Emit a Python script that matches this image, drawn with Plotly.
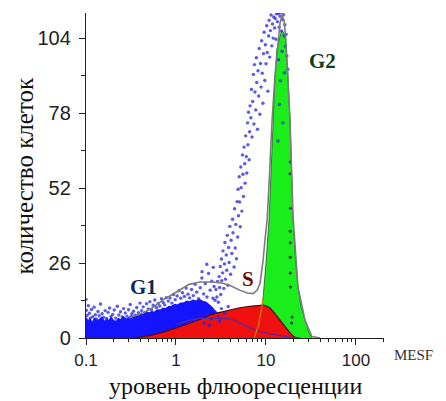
import numpy as np
import plotly.graph_objects as go

# ---------------- data ----------------
# total model fit (grey line)
fit_x = [0.3, 0.43, 0.55, 0.72, 0.9, 1.1, 1.4, 1.85, 2.6, 3.3, 4.0, 5.1, 6.2, 7.2, 8.0, 8.6,
         9.3, 9.75, 10.3, 11.0, 11.7, 12.6, 13.5, 14.3, 15.1, 15.9, 16.6, 17.6, 18.5, 20.0,
         22.7, 27.1, 32.4, 40.0]
fit_y = [7.0, 8.7, 10.5, 13.2, 15.0, 16.6, 18.6, 19.4, 19.4, 19.0, 18.2, 16.6, 15.6, 15.4, 16.6,
         19.0, 27.0, 34.0, 41.0, 58.0, 75.6, 91.0, 102.0, 109.0, 112.0, 110.0, 104.0, 90.5,
         75.6, 42.0, 17.7, 6.2, 0.5, 0.0]

# G2 component (green)
g2_x = [7.4, 8.2, 9.0, 9.3, 10.0, 10.8, 11.4, 12.0, 12.6, 13.2, 14.0, 14.7, 15.3, 16.3, 17.0,
        17.6, 18.5, 19.2, 20.0, 21.2, 22.7, 24.5, 27.1, 29.5, 32.4]
g2_y = [0.0, 4.0, 10.7, 14.0, 26.0, 41.0, 58.0, 75.6, 90.5, 100.0, 104.0, 106.0, 106.5, 105.0,
        98.0, 90.5, 75.6, 58.0, 41.0, 28.0, 17.7, 11.0, 6.2, 2.5, 0.0]

# S component (red)
s_x = [0.34, 0.51, 0.76, 1.1, 1.45, 1.9, 2.4, 3.0, 4.0, 5.1, 6.6, 8.0, 9.3, 10.2, 11.1, 12.5,
       14.3, 16.2, 18.5, 20.0, 21.5]
s_y = [0.0, 0.8, 2.2, 3.8, 5.2, 6.6, 8.0, 8.8, 9.8, 10.5, 11.0, 11.3, 11.4, 11.0, 10.4, 8.5,
       6.2, 3.8, 1.8, 0.7, 0.0]

# G1 tail curve (purple line)
p_x = [1.0, 1.2, 1.45, 1.85, 2.4, 3.0, 4.0, 5.1, 6.6, 8.5, 11.1, 14.0, 18.5, 24.0]
p_y = [4.8, 5.5, 6.2, 6.8, 6.9, 6.9, 6.6, 5.3, 3.5, 2.3, 1.4, 0.8, 0.3, 0.0]

# dense G1 band of measured points (upper edge)
band_x = [0.1, 0.105, 0.11, 0.118, 0.125, 0.133, 0.14, 0.15, 0.16, 0.17, 0.18, 0.19, 0.2, 0.215,
          0.23, 0.245, 0.26, 0.28, 0.3, 0.32, 0.34, 0.36, 0.385, 0.41, 0.44, 0.47, 0.5, 0.54,
          0.58, 0.62, 0.67, 0.72, 0.77, 0.83, 0.9, 0.97, 1.05, 1.13, 1.22, 1.32, 1.43, 1.55,
          1.68, 1.82, 1.97, 2.13, 2.3, 2.5, 2.7, 2.9]
band_y = [7.0, 5.5, 6.5, 5.0, 6.8, 5.6, 6.2, 7.0, 5.4, 6.4, 5.8, 6.9, 6.0, 5.5, 6.6, 6.1, 7.2,
          6.3, 7.0, 7.6, 6.8, 7.8, 7.4, 8.4, 8.0, 9.0, 8.5, 9.0, 8.8, 9.6, 9.5, 10.2, 10.0, 10.8,
          10.9, 11.5, 11.3, 12.0, 12.0, 12.6, 12.4, 13.0, 12.7, 13.2, 12.6, 12.3, 11.5, 10.5,
          9.2, 8.5]

# scattered measured points: (fluorescence, count)
pts_left = [
    (0.1, 13.4), (0.101, 9.6), (0.103, 7.8), (0.106, 11.2), (0.109, 8.6), (0.112, 6.9),
    (0.115, 9.9), (0.119, 7.4), (0.123, 10.7), (0.127, 8.1), (0.131, 6.6), (0.136, 9.2),
    (0.14, 7.7), (0.145, 11.8), (0.151, 8.4), (0.157, 7.1), (0.163, 9.5), (0.17, 6.8),
    (0.176, 8.9), (0.183, 10.4), (0.19, 7.5), (0.198, 8.2), (0.206, 9.7), (0.214, 6.9),
    (0.223, 11.0), (0.232, 8.0), (0.242, 9.1), (0.252, 7.3), (0.262, 10.2), (0.273, 8.7),
    (0.285, 7.6), (0.297, 9.8), (0.31, 11.6), (0.323, 8.4), (0.337, 9.3), (0.351, 7.9),
    (0.366, 10.6), (0.382, 8.8), (0.398, 12.1), (0.415, 9.5), (0.433, 10.8), (0.452, 8.9),
    (0.471, 11.9), (0.492, 10.1), (0.513, 12.6), (0.535, 9.7), (0.558, 11.4), (0.582, 13.2),
    (0.607, 10.6), (0.633, 12.0), (0.66, 11.1), (0.69, 13.6), (0.72, 12.3), (0.75, 11.5),
    (0.78, 14.0), (0.82, 12.8), (0.86, 13.9), (0.9, 12.1), (0.94, 15.1), (0.98, 13.3),
    (1.03, 14.6), (1.08, 16.4), (1.13, 13.8), (1.18, 15.7), (1.24, 14.4), (1.3, 17.3),
    (1.36, 15.2), (1.42, 13.9), (1.49, 16.8), (1.56, 14.7), (1.63, 18.6), (1.7, 15.9),
    (1.78, 13.6), (1.86, 17.4), (1.94, 20.8), (2.03, 15.3), (2.12, 18.9), (2.21, 14.2),
    (2.3, 22.4), (2.4, 16.6), (2.5, 19.7), (2.58, 13.8), (2.65, 17.9), (2.6, 24.5),
    (2.2, 25.6), (1.95, 23.0),
    (1.62, 6.1), (1.85, 7.6), (2.05, 5.2), (2.25, 8.3), (2.48, 6.7), (2.7, 9.1), (2.95, 7.4),
    (3.2, 10.2), (3.5, 8.6), (3.8, 10.9), (2.35, 4.4), (3.05, 5.8),
]
pts_cloud = [
    (2.72, 13.1), (2.78, 16.8), (2.85, 14.2), (2.9, 19.6), (2.96, 12.4), (3.02, 21.3),
    (3.05, 17.5), (3.1, 24.8), (3.14, 15.1), (3.2, 27.4), (3.22, 19.9), (3.3, 22.6),
    (3.33, 30.2), (3.4, 17.2), (3.46, 25.7), (3.5, 33.1), (3.55, 20.4), (3.62, 28.8),
    (3.66, 23.5), (3.72, 35.6), (3.78, 18.3), (3.85, 31.4), (3.9, 26.2), (3.97, 38.7),
    (4.05, 22.1), (4.1, 33.9), (4.18, 29.3), (4.25, 41.2), (4.3, 36.5), (4.42, 24.6),
    (4.48, 44.8), (4.55, 31.2), (4.62, 39.4), (4.7, 27.5), (4.78, 47.3), (4.85, 35.0),
    (4.9, 51.6), (4.95, 42.4), (5.05, 55.9), (5.1, 47.2), (5.18, 38.6), (5.25, 59.3),
    (5.3, 52.1), (5.4, 44.0), (5.48, 63.5), (5.55, 56.8), (5.62, 49.1), (5.7, 66.2),
    (5.8, 60.4), (5.86, 53.7), (5.95, 70.1), (6.05, 62.9), (6.12, 57.2), (6.25, 74.6),
    (6.3, 67.0), (6.4, 78.3), (6.5, 61.8), (6.58, 71.5), (6.66, 80.5),
    (6.8, 76.4), (6.9, 86.2), (7.0, 69.7), (7.12, 82.0), (7.25, 91.4), (7.35, 74.2),
    (7.45, 94.8), (7.55, 85.3), (7.7, 79.1), (7.82, 97.2), (7.9, 88.6), (8.05, 72.4),
    (8.15, 92.7), (8.3, 83.9), (8.42, 100.4), (8.55, 77.6), (8.7, 95.2), (8.82, 87.0),
    (8.95, 103.1), (9.1, 91.8), (9.25, 81.4), (9.4, 98.6), (9.55, 106.0), (9.7, 89.3),
    (9.85, 101.7), (10.0, 95.1), (10.2, 108.3), (10.35, 99.0), (10.5, 85.6), (10.7, 104.7),
    (10.85, 110.2), (11.0, 97.4), (11.2, 106.6), (11.4, 112.0), (11.6, 101.3), (11.8, 108.9),
    (12.0, 104.0), (12.2, 111.3), (12.45, 107.5), (12.7, 110.8), (12.9, 103.6), (13.1, 112.4),
    (13.4, 109.7), (13.7, 112.5), (14.0, 107.8), (14.3, 111.6), (14.6, 112.8), (14.9, 106.5),
    (15.3, 110.4), (15.6, 112.1), (15.9, 104.8), (16.2, 108.6), (16.5, 101.2), (16.8, 105.3),
    (17.1, 97.8), (17.5, 93.2), (13.8, 96.5), (14.5, 89.2), (15.1, 99.4), (14.1, 81.0),
    (15.4, 74.6), (13.6, 68.3), (16.0, 92.0),
]
pts_x = [p[0] for p in pts_left + pts_cloud]
pts_y = [p[1] for p in pts_left + pts_cloud]

# dark points inside the G2 peak
dark_x = [18.6, 18.5, 18.7, 18.6, 18.6, 18.6, 18.6, 18.7, 19.5, 19.3]
dark_y = [61.0, 57.0, 45.0, 37.0, 33.0, 28.0, 22.5, 17.7, 7.3, 5.2]

# labels / ticks
x_ticks = [0.1, 1, 10, 100]
x_tick_text = ["0.1", "1", "10", "100"]
y_ticks = [0, 26, 52, 78, 104]
y_minor = [13, 39, 65, 91]
x_minor = [k * 10.0 ** e for e in (-1, 0, 1, 2) for k in range(2, 10) if k * 10.0 ** e < 210]
phase_labels = ["G1", "S", "G2"]
phase_x = [0.44, 6.3, 42.0]
phase_y = [17.7, 20.5, 96.0]
phase_colors = ["#0b2a5e", "#6a0c0c", "#0b3d1c"]

# ---------------- figure ----------------
fig = go.Figure()

fig.add_trace(go.Scatter(x=g2_x, y=g2_y, mode="lines", fill="tozeroy",
                         fillcolor="#1aee1a", line=dict(color="rgba(40,60,40,0.7)", width=1),
                         hoverinfo="skip"))
fig.add_trace(go.Scatter(x=band_x, y=band_y, mode="lines", fill="tozeroy",
                         fillcolor="#1414ff", line=dict(color="#1414ff", width=2),
                         hoverinfo="skip"))
fig.add_trace(go.Scatter(x=s_x, y=s_y, mode="lines", fill="tozeroy",
                         fillcolor="#f01010", line=dict(color="#4a0c0c", width=1.2),
                         hoverinfo="skip"))
fig.add_trace(go.Scatter(x=pts_x, y=pts_y, mode="markers",
                         marker=dict(color="rgba(35,35,225,0.75)", size=3.4),
                         hoverinfo="skip"))
fig.add_trace(go.Scatter(x=dark_x, y=dark_y, mode="markers",
                         marker=dict(color="#1d3d5a", size=3),
                         hoverinfo="skip"))
fig.add_trace(go.Scatter(x=p_x, y=p_y, mode="lines",
                         line=dict(color="#5a2a9a", width=1.3), hoverinfo="skip"))
g2_lo = [i for i, v in enumerate(g2_x) if v <= 9.3]
fig.add_trace(go.Scatter(x=[g2_x[i] for i in g2_lo], y=[g2_y[i] for i in g2_lo], mode="lines",
                         line=dict(color="#c88a00", width=1.2), hoverinfo="skip"))
fig.add_trace(go.Scatter(x=fit_x, y=fit_y, mode="lines",
                         line=dict(color="#7c7c7c", width=1.6), hoverinfo="skip"))

for t, xv, yv, c in zip(phase_labels, phase_x, phase_y, phase_colors):
    fig.add_annotation(x=np.log10(xv), y=yv, xref="x", yref="y", text="<b>" + t + "</b>",
                       showarrow=False, xanchor="center", yanchor="middle",
                       font=dict(family="Liberation Serif", size=21, color=c))

fig.add_annotation(x=1.1, y=-0.052, xref="paper", yref="paper", text="MESF", showarrow=False,
                   xanchor="center", yanchor="middle",
                   font=dict(family="Liberation Serif", size=15, color="#333"))
fig.add_annotation(x=0.5, y=-0.148, xref="paper", yref="paper", xanchor="center",
                   yanchor="middle", text="уровень флюоресценции", showarrow=False,
                   font=dict(family="Liberation Serif", size=24, color="#111"))
fig.add_annotation(x=-0.205, y=0.5, xref="paper", yref="paper", textangle=-90,
                   xanchor="center", yanchor="middle",
                   text="количество клеток", showarrow=False,
                   font=dict(family="Liberation Serif", size=25, color="#111"))

# the page body adds an 8 px offset, so the figure is 8 px smaller than the window
fig.update_layout(
    width=438, height=393,
    margin=dict(l=78, r=62, t=5, b=63),
    paper_bgcolor="white", plot_bgcolor="white",
    showlegend=False,
    xaxis=dict(type="log", range=[-1, np.log10(205)], tickvals=x_ticks, ticktext=x_tick_text,
               ticks="outside", ticklen=6, tickwidth=1.2, tickcolor="#222",
               showline=True, linecolor="#222", linewidth=1.3, showgrid=False, zeroline=False,
               automargin=False,
               minor=dict(tickvals=x_minor, ticks="outside", ticklen=3, tickcolor="#222"),
               tickfont=dict(family="Liberation Sans", size=17, color="#222")),
    yaxis=dict(range=[0, 112.7], tickvals=y_ticks, ticks="outside", ticklen=6, tickwidth=1.2,
               tickcolor="#222", showline=True, linecolor="#222", linewidth=1.3,
               showgrid=False, zeroline=False, automargin=False, ticklabelstandoff=4,
               minor=dict(tickvals=y_minor, ticks="outside", ticklen=4, tickcolor="#222"),
               tickfont=dict(family="Liberation Sans", size=20, color="#222")),
)

fig.write_html("out.html")
